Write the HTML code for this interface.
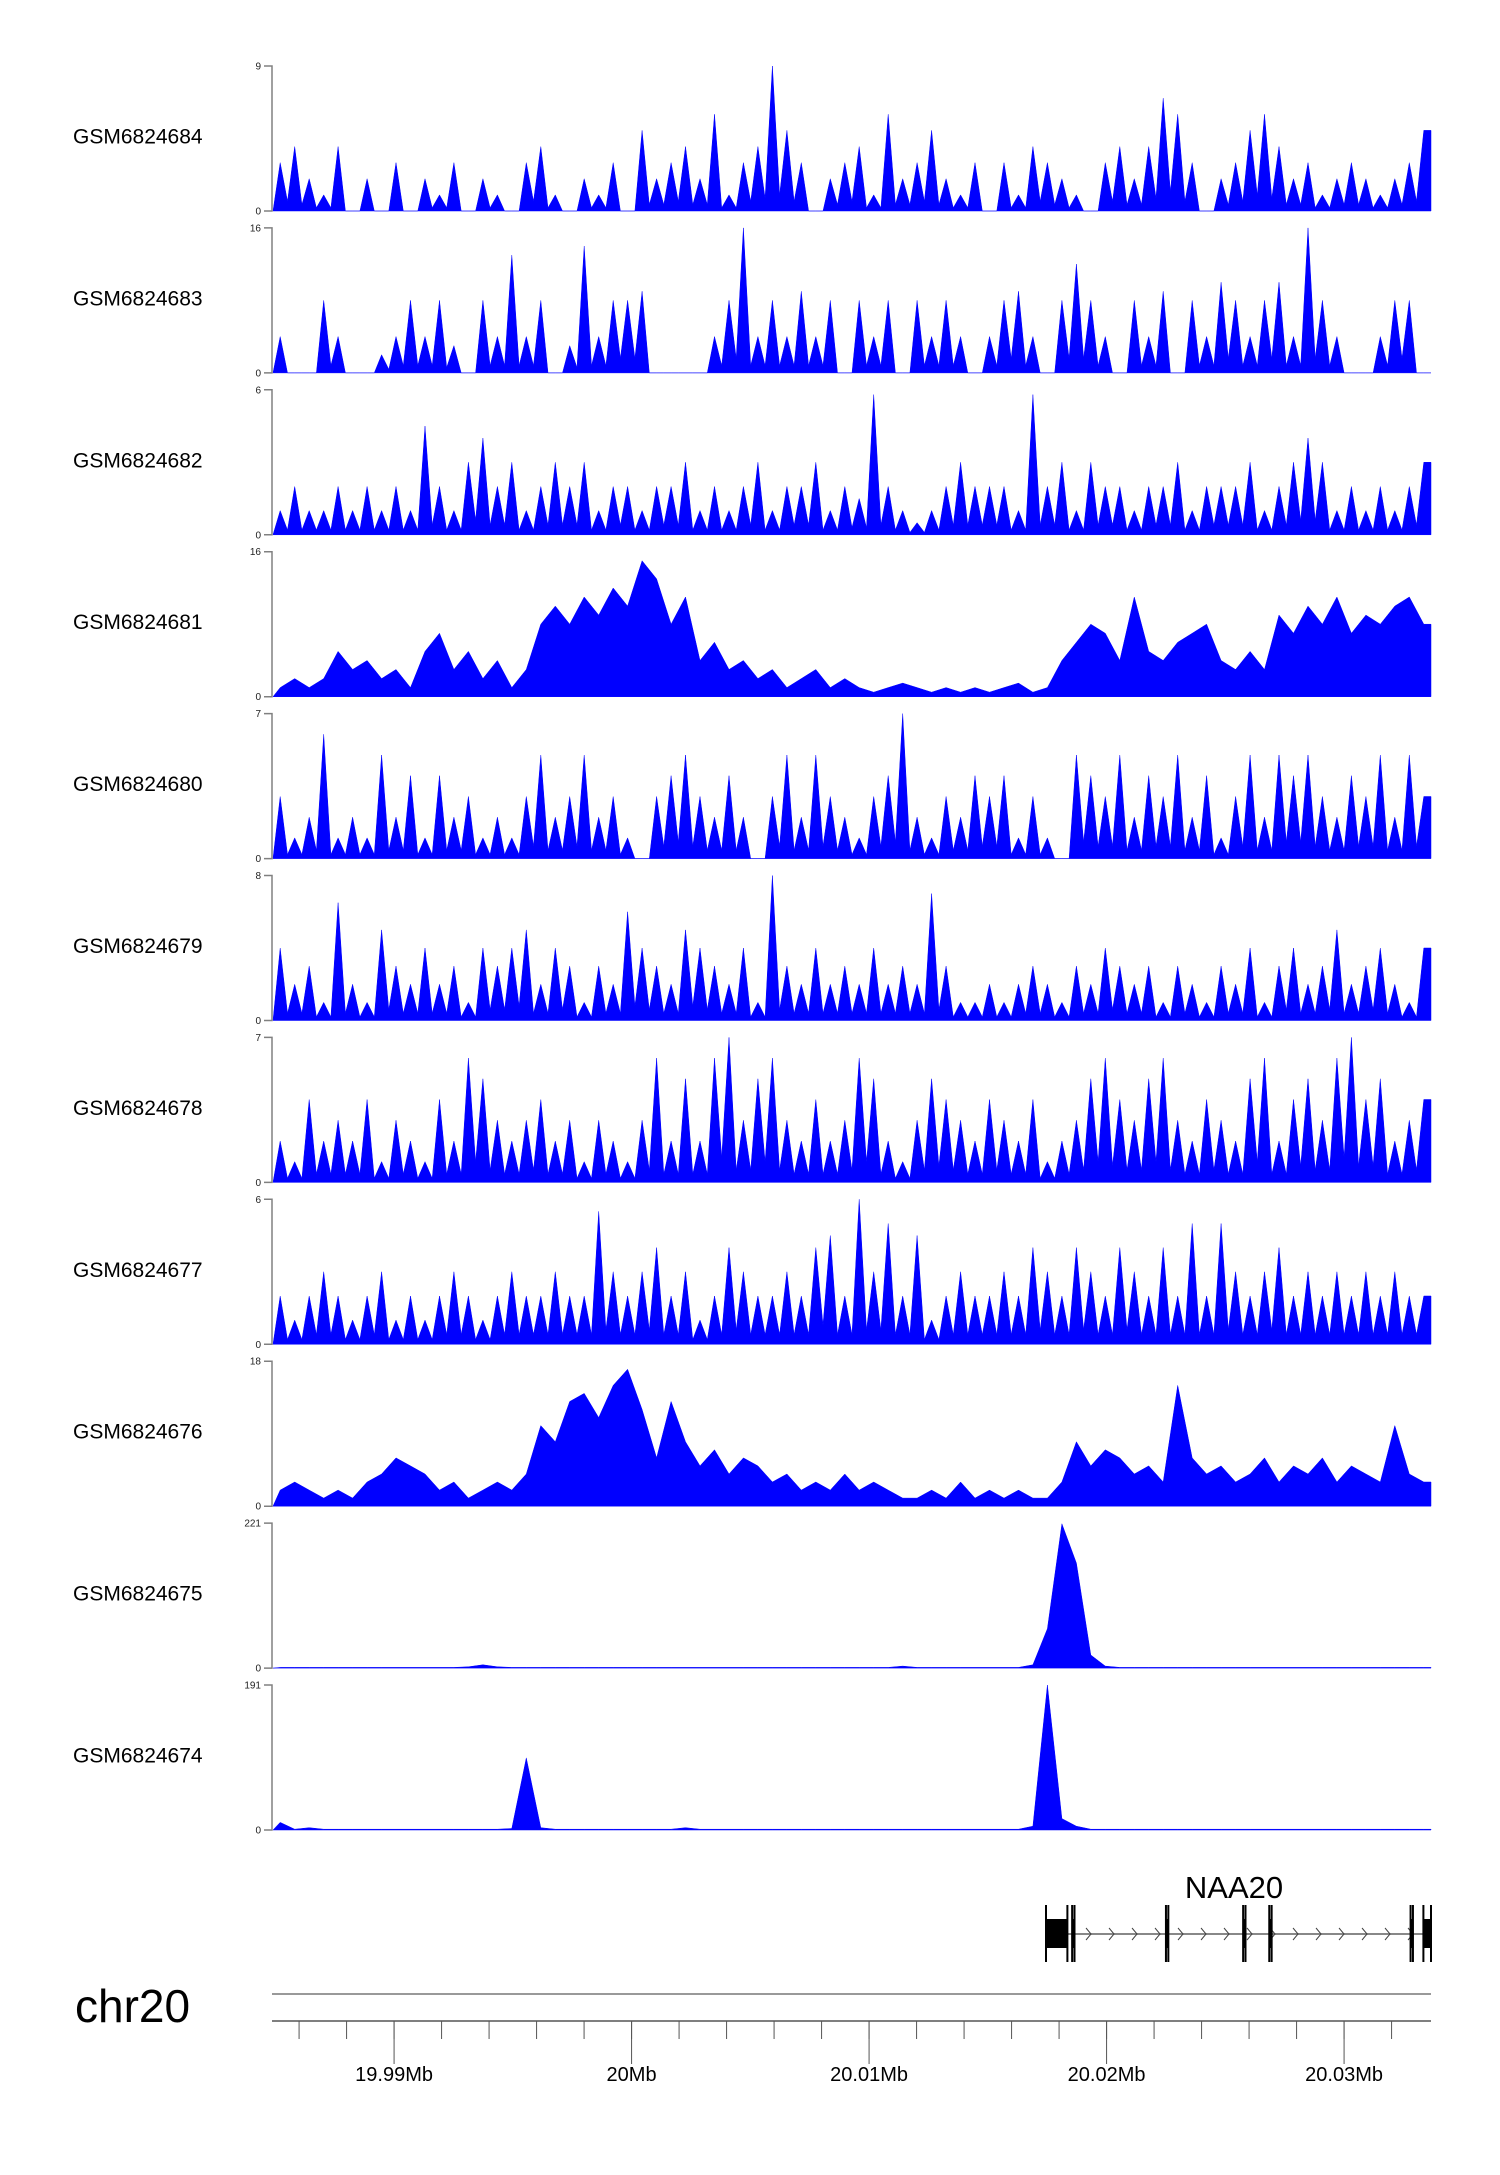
<!DOCTYPE html>
<html><head><meta charset="utf-8"><style>
body{margin:0;background:#fff;}
svg text{font-family:"Liberation Sans",sans-serif;}
</style></head><body>
<svg id="c" width="1500" height="2170" xmlns="http://www.w3.org/2000/svg"></svg>
<script>
const trackNames=["GSM6824684","GSM6824683","GSM6824682","GSM6824681","GSM6824680","GSM6824679","GSM6824678","GSM6824677","GSM6824676","GSM6824675","GSM6824674"];
const trackMax=[9,16,6,16,7,8,7,6,18,221,191];
const trackSpiky=[true,true,true,false,true,true,true,true,false,false,false];
const s684=[3,4,2,1,4,0,2,0,3,0,2,1,3,0,2,1,0,3,4,1,0,2,1,3,0,5,2,3,4,2,6,1,3,4,9,5,3,0,2,3,4,1,6,2,3,5,2,1,3,0,3,1,4,3,2,1,0,3,4,2,4,7,6,3,0,2,3,5,6,4,2,3,1,2,3,2,1,2,3,5];
const s683=[4,0,0,8,4,0,0,2,4,8,4,8,3,0,8,4,13,4,8,0,3,14,4,8,8,9,0,0,0,0,4,8,16,4,8,4,9,4,8,0,8,4,8,0,8,4,8,4,0,4,8,9,4,0,8,12,8,4,0,8,4,9,0,8,4,10,8,4,8,10,4,16,8,4,0,0,4,8,8,0];
const s682=[1,2,1,1,2,1,2,1,2,1,4.5,2,1,3,4,2,3,1,2,3,2,3,1,2,2,1,2,2,3,1,2,1,2,3,1,2,2,3,1,2,1.5,5.8,2,1,0.5,1,2,3,2,2,2,1,5.8,2,3,1,3,2,2,1,2,2,3,1,2,2,2,3,1,2,3,4,3,1,2,1,2,1,2,3];
const s681=[1,2,1,2,5,3,4,2,3,1,5,7,3,5,2,4,1,3,8,10,8,11,9,12,10,15,13,8,11,4,6,3,4,2,3,1,2,3,1,2,1,0.5,1,1.5,1,0.5,1,0.5,1,0.5,1,1.5,0.5,1,4,6,8,7,4,11,5,4,6,7,8,4,3,5,3,9,7,10,8,11,7,9,8,10,11,8];
const s680=[3,1,2,6,1,2,1,5,2,4,1,4,2,3,1,2,1,3,5,2,3,5,2,3,1,0,3,4,5,3,2,4,2,0,3,5,2,5,3,2,1,3,4,7,2,1,3,2,4,3,4,1,3,1,0,5,4,3,5,2,4,3,5,2,4,1,3,5,2,5,4,5,3,2,4,3,5,2,5,3];
const s679=[4,2,3,1,6.5,2,1,5,3,2,4,2,3,1,4,3,4,5,2,4,3,1,3,2,6,4,3,2,5,4,3,2,4,1,8,3,2,4,2,3,2,4,2,3,2,7,3,1,1,2,1,2,3,2,1,3,2,4,3,2,3,1,3,2,1,3,2,4,1,3,4,2,3,5,2,3,4,2,1,4];
const s678=[2,1,4,2,3,2,4,1,3,2,1,4,2,6,5,3,2,3,4,2,3,1,3,2,1,3,6,2,5,2,6,7,3,5,6,3,2,4,2,3,6,5,2,1,3,5,4,3,2,4,3,2,4,1,2,3,5,6,4,3,5,6,3,2,4,3,2,5,6,2,4,5,3,6,7,4,5,2,3,4];
const s677=[2,1,2,3,2,1,2,3,1,2,1,2,3,2,1,2,3,2,2,3,2,2,5.5,3,2,3,4,2,3,1,2,4,3,2,2,3,2,4,4.5,2,6,3,5,2,4.5,1,2,3,2,2,3,2,4,3,2,4,3,2,4,3,2,4,2,5,2,5,3,2,3,4,2,3,2,3,2,3,2,3,2,2];
const s676=[2,3,2,1,2,1,3,4,6,5,4,2,3,1,2,3,2,4,10,8,13,14,11,15,17,12,6,13,8,5,7,4,6,5,3,4,2,3,2,4,2,3,2,1,1,2,1,3,1,2,1,2,1,1,3,8,5,7,6,4,5,3,15,6,4,5,3,4,6,3,5,4,6,3,5,4,3,10,4,3];
const s675=[1,1,1,1,1,1,1,1,1,1,1,1,1,2,5,2,1,1,1,1,1,1,1,1,1,1,1,1,1,1,1,1,1,1,1,1,1,1,1,1,1,1,1,3,1,1,1,1,1,1,1,1,5,60,220,160,20,3,1,1,1,1,1,1,1,1,1,1,1,1,1,1,1,1,1,1,1,1,1,1];
const s674=[10,1,3,1,1,1,1,1,1,1,1,1,1,1,1,1,2,95,3,1,1,1,1,1,1,1,1,1,3,1,1,1,1,1,1,1,1,1,1,1,1,1,1,1,1,1,1,1,1,1,1,1,5,191,15,5,1,1,1,1,1,1,1,1,1,1,1,1,1,1,1,1,1,1,1,1,1,1,1,1];
const series=[s684,s683,s682,s681,s680,s679,s678,s677,s676,s675,s674];
const tickLabels=["19.99Mb","20Mb","20.01Mb","20.02Mb","20.03Mb"];
const tickPos=[19.99,20.00,20.01,20.02,20.03];
const genomeStart=19.98486, genomeEnd=20.03366;
const exons=[[20.01745,20.01835],[20.01855,20.01865],[20.0225,20.0226],[20.02575,20.02585],[20.02685,20.02695],[20.0328,20.0329],[20.03334,20.03366]];
const geneStart=20.01745, geneEnd=20.03366;

const NS="http://www.w3.org/2000/svg";
const svg=document.getElementById('c');
const X0=272,X1=1431;
const xg=g=>X0+(g-genomeStart)/(genomeEnd-genomeStart)*(X1-X0);
function mk(t,a,p){const e=document.createElementNS(NS,t);for(const k in a)e.setAttribute(k,a[k]);(p||svg).appendChild(e);return e;}

series.forEach((vals,i)=>{
  const top=66+161.9*i, bot=top+145;
  const g=mk('g',{});
  
  
  const yv=v=>bot-v/trackMax[i]*(bot-top);
  const n=vals.length, w=(X1-X0-1)/n;
  let pts=[[X0+1,bot]];
  vals.forEach((v,j)=>{
    pts.push([X0+1+(j+0.5)*w,yv(v)]);
    if(trackSpiky[i]&&j<n-1){
      const m=Math.min(v,vals[j+1])*0.2;
      pts.push([X0+1+(j+1)*w,yv(m)]);
    }
  });
  pts.push([X1,yv(vals[n-1])],[X1,bot]);
  const poly=mk('polygon',{points:pts.map(p=>p[0].toFixed(1)+','+p[1].toFixed(1)).join(' '),fill:'#0000ff',stroke:'#0000ff','stroke-width':0.5},g);
  
  
  const ax=mk('path',{d:`M${X0-8},${top}H${X0}V${bot}H${X0-8}`,fill:'none',stroke:'#808080','stroke-width':1.5},g);
  
  
  const t1=mk('text',{x:X0-11,y:top+3.5,'font-size':10,'text-anchor':'end',fill:'#222'},g);t1.textContent=trackMax[i];
  
  
  const t0=mk('text',{x:X0-11,y:bot+3.5,'font-size':10,'text-anchor':'end',fill:'#222'},g);t0.textContent='0';
  
  
  const lab=mk('text',{x:73,y:(top+bot)/2+5,'font-size':21,fill:'#000'},g);lab.textContent=trackNames[i];
  
  
});

const gg=mk('g',{});


const gy=1934;
mk('line',{x1:xg(geneStart),x2:xg(geneEnd),y1:gy,y2:gy,stroke:'#888','stroke-width':2},gg);
for(let x=xg(geneStart)+20;x<xg(geneEnd)-10;x+=23){mk('path',{d:`M${x-3},${gy-6}L${x+2},${gy}L${x-3},${gy+6}`,fill:'none',stroke:'#444','stroke-width':1},gg);}
exons.forEach(e=>{
  const a=xg(e[0]),b=xg(e[1]);
  mk('rect',{x:a,y:1919,width:Math.max(b-a,2),height:29,fill:'#000'},gg);
  mk('line',{x1:a,x2:a,y1:1905,y2:1962,stroke:'#000','stroke-width':2},gg);
  mk('line',{x1:b,x2:b,y1:1905,y2:1962,stroke:'#000','stroke-width':2},gg);
});
const gt=mk('text',{x:1234,y:1898,'font-size':31,'text-anchor':'middle',fill:'#000'},gg);gt.textContent='NAA20';



const ag=mk('g',{});


const chr=mk('text',{x:75,y:2022,'font-size':46,fill:'#000'},ag);chr.textContent='chr20';


mk('line',{x1:X0,x2:X1,y1:1994,y2:1994,stroke:'#999','stroke-width':2},ag);
mk('line',{x1:X0,x2:X1,y1:2021,y2:2021,stroke:'#555','stroke-width':1.5},ag);
for(let g=19.986;g<genomeEnd;g+=0.002){const x=xg(g);mk('line',{x1:x,x2:x,y1:2021,y2:2039,stroke:'#555','stroke-width':1},ag);}
tickPos.forEach((p,i)=>{const x=xg(p);
  mk('line',{x1:x,x2:x,y1:2021,y2:2064,stroke:'#555','stroke-width':1},ag);
  const t=mk('text',{x:x,y:2081,'font-size':20,'text-anchor':'middle',fill:'#000'},ag);t.textContent=tickLabels[i];
  
  
});
</script>
</body></html>
